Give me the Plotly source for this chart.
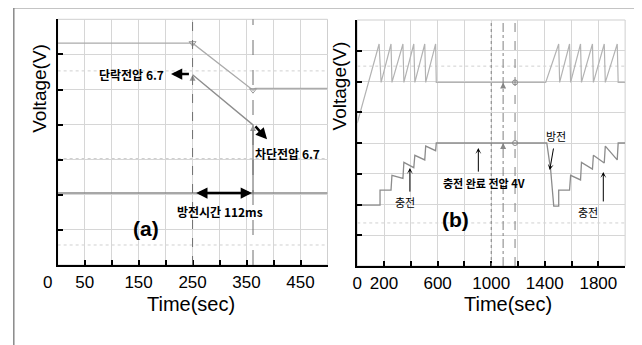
import plotly.graph_objects as go

# ---------------- data: panel (a) ----------------
a_top_x = [0, 250, 362, 366, 500]
a_top_y = [6.32, 6.32, 4.98, 5.03, 5.03]
a_mid_x = [250, 362, 362]
a_mid_y = [5.42, 3.99, 2.05]
a_bot_x = [0, 250, 362, 500]
a_bot_y = [2.05, 2.05, 2.05, 2.05]
a_cursor_x = [250, 362]
a_cursor_dash = ["dash", "longdash"]
a_ticks = [50, 100, 150, 200, 250, 300, 350, 400, 450]
a_ticktext = ["50", "", "150", "", "250", "", "350", "", "450"]
a_dotted_levels = [5.53, 0.57]
a_trace3_level = 3.02

# ---------------- data: panel (b) ----------------
b_top_x = [0, 163, 178, 252, 259, 341, 348, 422, 430, 504, 511, 585, 590, 1407,
           1504, 1511, 1585, 1593, 1667, 1674, 1756, 1763, 1844, 1852, 1941, 1948, 2000]
b_top_y = [4.65, 7.22, 5.97, 7.22, 5.97, 7.22, 5.97, 7.22, 5.97, 7.22, 5.97, 7.22, 5.97, 5.97,
           7.22, 5.97, 7.22, 5.97, 7.22, 5.97, 7.22, 5.97, 7.22, 5.97, 7.22, 5.97, 5.97]
b_mid_x = [0, 170, 170, 252, 259, 341, 348, 422, 430, 504, 511, 585, 590, 1407,
           1415, 1444, 1467, 1504, 1504, 1585, 1593, 1667, 1674, 1756, 1763, 1844, 1852, 1941, 1948, 2000]
b_mid_y = [1.98, 1.98, 2.47, 2.47, 2.95, 2.85, 3.37, 3.2, 3.6, 3.45, 3.9, 3.75, 4.0, 4.0,
           4.0, 3.12, 1.95, 1.95, 2.47, 2.47, 2.95, 2.8, 3.37, 3.15, 3.6, 3.35, 3.9, 3.45, 4.0, 4.0]
b_cursor_x = [1000, 1089, 1178]
b_cursor_dash = ["dot", "dashdot", "dash"]
b_ticks = [0, 200, 400, 600, 800, 1000, 1200, 1400, 1600, 1800]
b_ticktext = ["0", "200", "", "600", "", "1000", "", "1400", "", "1800"]
b_dotted_levels = [6.5, 1.4]

SANS = "Liberation Sans, Arial"
KR = "Noto Sans CJK KR"

# the page places the figure 8px from the window's top-left corner
OFF = 8
W, H = 634, 337
def px2x(px):
    return (px - OFF) / W
def py2y(py):
    return 1 - (py - OFF) / H

fig = go.Figure()

# panel (a) traces
fig.add_trace(go.Scatter(x=a_top_x, y=a_top_y, mode="lines", line=dict(color="#ababab", width=1.4),
                         xaxis="x", yaxis="y", hoverinfo="skip"))
fig.add_trace(go.Scatter(x=a_mid_x, y=a_mid_y, mode="lines", line=dict(color="#8e8e8e", width=1.4),
                         xaxis="x", yaxis="y", hoverinfo="skip"))
fig.add_trace(go.Scatter(x=a_bot_x, y=a_bot_y, mode="lines", line=dict(color="#8a8a8a", width=1.4),
                         xaxis="x", yaxis="y", hoverinfo="skip"))
fig.add_trace(go.Scatter(x=[a_top_x[1], a_top_x[2]], y=[a_top_y[1], a_top_y[2]], mode="markers",
                         marker=dict(symbol="triangle-down-open", size=6, color="#999"),
                         xaxis="x", yaxis="y", hoverinfo="skip"))
fig.add_trace(go.Scatter(x=[a_mid_x[0], a_mid_x[1]], y=[a_mid_y[0], a_mid_y[1]], mode="markers",
                         marker=dict(symbol="arrow-up", size=6, color="#999"),
                         xaxis="x", yaxis="y", hoverinfo="skip"))

# panel (b) traces
fig.add_trace(go.Scatter(x=b_top_x, y=b_top_y, mode="lines", line=dict(color="#b3b3b3", width=1.2),
                         xaxis="x2", yaxis="y2", hoverinfo="skip"))
fig.add_trace(go.Scatter(x=b_mid_x, y=b_mid_y, mode="lines", line=dict(color="#8c8c8c", width=1.3),
                         xaxis="x2", yaxis="y2", hoverinfo="skip"))
fig.add_trace(go.Scatter(x=[b_cursor_x[1], b_cursor_x[1]], y=[b_top_y[13], b_mid_y[13]], mode="markers",
                         marker=dict(symbol="arrow-up", size=6, color="#888"),
                         xaxis="x2", yaxis="y2", hoverinfo="skip"))
fig.add_trace(go.Scatter(x=[b_cursor_x[2], b_cursor_x[2]], y=[b_top_y[13], b_mid_y[13]], mode="markers",
                         marker=dict(symbol="circle-open", size=5, color="#888"),
                         xaxis="x2", yaxis="y2", hoverinfo="skip"))

shapes = []
for xr, yr in (("x domain", "y domain"), ("x2 domain", "y2 domain")):
    shapes.append(dict(type="rect", xref=xr, yref=yr, x0=0, x1=1, y0=0, y1=1,
                       line=dict(color="#cfcfcf", width=1), layer="below"))
for lv in a_dotted_levels:
    shapes.append(dict(type="line", xref="x domain", yref="y", x0=0, x1=1, y0=lv, y1=lv,
                       line=dict(color="#d0d0d0", width=1, dash="dot"), layer="below"))
shapes.append(dict(type="line", xref="x domain", yref="y", x0=0, x1=1, y0=a_trace3_level, y1=a_trace3_level,
                   line=dict(color="#a0a0a0", width=1.2, dash="dot"), layer="below"))
for lv in b_dotted_levels:
    shapes.append(dict(type="line", xref="x2 domain", yref="y2", x0=0, x1=1, y0=lv, y1=lv,
                       line=dict(color="#d0d0d0", width=1, dash="dot"), layer="below"))
for cx, cd in zip(a_cursor_x, a_cursor_dash):
    shapes.append(dict(type="line", xref="x", yref="y domain", x0=cx, x1=cx, y0=0, y1=1,
                       line=dict(color="#6e6e6e", width=1, dash=cd)))
for cx, cd in zip(b_cursor_x, b_cursor_dash):
    shapes.append(dict(type="line", xref="x2", yref="y2 domain", x0=cx, x1=cx, y0=0, y1=1,
                       line=dict(color="#808080", width=1, dash=cd)))
# outer frame
shapes.append(dict(type="rect", xref="paper", yref="paper", x0=px2x(8.8), x1=px2x(636), y0=-0.2, y1=py2y(7.8),
                   line=dict(color="#8a8a8a", width=1.5)))

ann = []
def txt(x, y, t, xr, yr, size=12, bold=True, family=KR, xanchor="center", angle=0):
    ann.append(dict(x=x, y=y, xref=xr, yref=yr, text=("<b>%s</b>" % t) if bold else t, showarrow=False,
                    font=dict(family=family, size=size, color="black"), xanchor=xanchor, yanchor="middle",
                    textangle=angle))

def arrow(x, y, ax, ay, xr, yr, width=2.5, head=2, size=0.9, side="end"):
    ann.append(dict(x=x, y=y, ax=ax, ay=ay, xref=xr, yref=yr, axref=xr, ayref=yr, text="",
                    showarrow=True, arrowhead=head, arrowsize=size, arrowwidth=width,
                    arrowcolor="black", arrowside=side, startarrowhead=head, startarrowsize=size))

# panel (a) annotations
txt(200, 5.44, "단락전압 6.7", "x", "y", size=12, xanchor="right")
arrow(210, 5.44, 246, 5.44, "x", "y")
txt(426, 3.18, "차단전압 6.7", "x", "y", size=12)
arrow(388, 3.58, 364, 3.99, "x", "y")
arrow(360, 2.05, 254, 2.05, "x", "y", side="end+start")
txt(300, 1.51, "방전시간 112ms", "x", "y", size=12)
txt(164, 1.03, "(a)", "x", "y", size=21, family=SANS)

# panel (b) annotations
txt(356, 2.08, "충전", "x2", "y2", size=11, bold=False)
arrow(393, 3.19, 393, 2.37, "x2", "y2", width=1, head=3, size=1)
txt(948, 2.70, "충전 완료 전압 4V", "x2", "y2", size=11)
arrow(904, 3.84, 904, 3.02, "x2", "y2", width=1, head=3, size=1)
txt(733, 1.50, "(b)", "x2", "y2", size=21, family=SANS)
txt(1481, 4.22, "방전", "x2", "y2", size=11, bold=False)
arrow(1437, 3.12, 1467, 3.87, "x2", "y2", width=1, head=3, size=1)
txt(1726, 1.76, "충전", "x2", "y2", size=11, bold=False)
arrow(1837, 3.06, 1837, 2.05, "x2", "y2", width=1, head=3, size=1)

# axis titles / extra tick label
txt(px2x(34), py2y(88), "Voltage(V)", "paper", "paper", size=19, bold=False, family=SANS, angle=-90)
txt(px2x(337), py2y(86), "Voltage(V)", "paper", "paper", size=19, bold=False, family=SANS, angle=-90)
txt(px2x(187), py2y(304), "Time(sec)", "paper", "paper", size=20, bold=False, family=SANS)
txt(px2x(507), py2y(304), "Time(sec)", "paper", "paper", size=20, bold=False, family=SANS)
txt(px2x(43), py2y(282), "0", "paper", "paper", size=17, bold=False, family=SANS)

axis_common = dict(showline=True, linecolor="black", linewidth=2, ticks="inside", ticklen=5, tickwidth=2,
                   tickcolor="black", showgrid=True, gridcolor="#d6d6d6", gridwidth=1, zeroline=False,
                   fixedrange=True)

fig.update_layout(
    width=W, height=H, margin=dict(l=0, r=0, t=0, b=0),
    paper_bgcolor="white", plot_bgcolor="white", showlegend=False,
    xaxis=dict(domain=[px2x(53), px2x(325)], range=[0, 500], anchor="y", tickmode="array",
               tickvals=a_ticks, ticktext=a_ticktext, tickfont=dict(family=SANS, size=17, color="black"),
               ticklabelstandoff=1, **axis_common),
    yaxis=dict(domain=[py2y(265), py2y(19.3)], range=[0, 7], anchor="x",
               tickvals=[1, 2, 3, 4, 5, 6, 7], showticklabels=False, **axis_common),
    xaxis2=dict(domain=[px2x(355), px2x(625)], range=[0, 2000], anchor="y2", tickmode="array",
                tickvals=b_ticks, ticktext=b_ticktext, tickfont=dict(family=SANS, size=17, color="black"),
                ticklabelstandoff=1, **axis_common),
    yaxis2=dict(domain=[py2y(266), py2y(20)], range=[0, 8], anchor="x2",
                tickvals=[1, 2, 3, 4, 5, 6, 7, 8], showticklabels=False, **axis_common),
    shapes=shapes, annotations=ann,
)

fig.write_html("out.html")
